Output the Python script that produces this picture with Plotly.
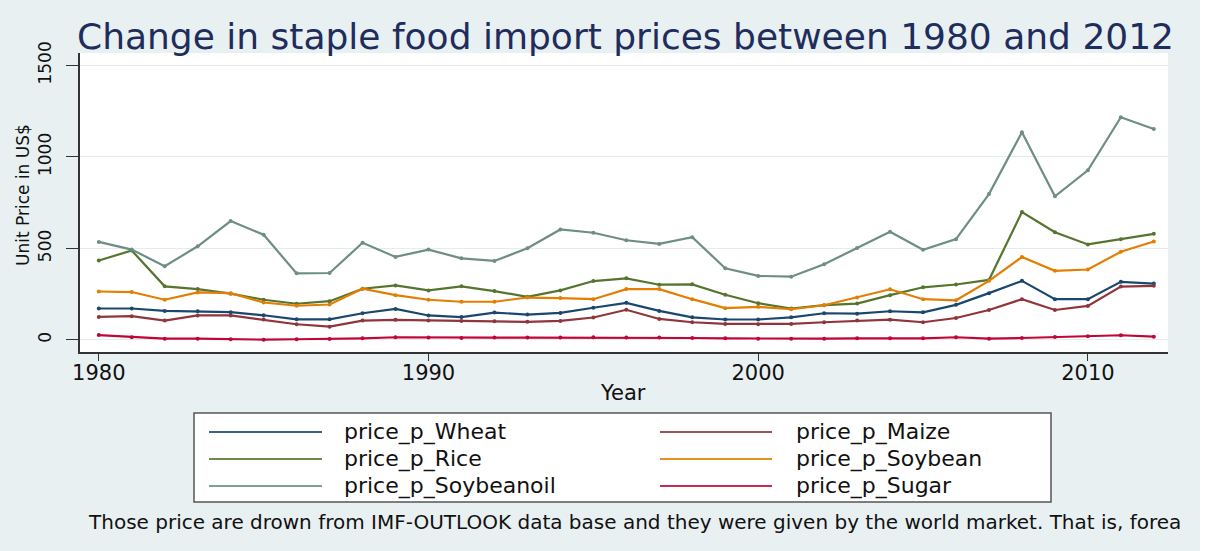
import plotly.graph_objects as go

years = list(range(1980, 2013))

wheat = [172, 172, 159, 157, 152, 135, 113, 113, 146, 170, 134, 125, 150, 139, 148, 176, 203, 159, 124, 112, 112, 124,
         146, 144, 157, 151, 192, 256, 323, 223, 223, 318, 308]
maize = [126, 130, 106, 134, 134, 112, 86, 73, 106, 110, 106, 104, 102, 99, 104, 123, 165, 115, 97, 88, 86, 88,
         97, 106, 111, 97, 120, 164, 223, 164, 186, 292, 296]
rice = [434, 489, 293, 278, 253, 220, 198, 212, 280, 298, 271, 293, 267, 236, 271, 322, 337, 302, 304, 247, 201, 172,
        190, 199, 245, 288, 303, 328, 699, 589, 522, 551, 580]
soybean = [265, 262, 220, 260, 256, 205, 187, 194, 280, 245, 220, 209, 209, 232, 229, 223, 278, 278, 223, 174, 181, 168,
           190, 232, 277, 223, 217, 323, 453, 378, 385, 482, 538]
soybeanoil = [536, 494, 403, 512, 650, 575, 364, 366, 531, 454, 494, 446, 432, 501, 604, 586, 545, 525, 562, 392, 350, 346,
              414, 502, 591, 493, 551, 797, 1135, 785, 927, 1217, 1153]
sugar = [27, 15, 7, 7, 4, 2, 4, 5, 9, 15, 13, 11, 13, 13, 13, 15, 13, 13, 11, 9, 7, 7,
         7, 9, 9, 9, 15, 7, 11, 16, 20, 26, 18]

names = ["price_p_Wheat", "price_p_Maize", "price_p_Rice", "price_p_Soybean", "price_p_Soybeanoil", "price_p_Sugar"]
series = [wheat, maize, rice, soybean, soybeanoil, sugar]
colors = ["#1A476F", "#90353B", "#55752F", "#E37E00", "#6E8E84", "#C10534"]

ytick_vals = [0, 500, 1000, 1500]
xtick_vals = [1980, 1990, 2000, 2010]

title_text = "Change in staple food import prices between 1980 and 2012"
ytitle_text = "Unit Price in US$"
xtitle_text = "Year"
note_text = "Those price are drown from IMF-OUTLOOK data base and they were given by the world market. That is, forea"

FONT = "DejaVu Sans"
BG = "#E9F0F2"

fig = go.Figure()
for name, vals, col in zip(names, series, colors):
    fig.add_trace(go.Scatter(
        x=years, y=vals, name=name, mode="lines+markers",
        line=dict(color=col, width=2.2),
        marker=dict(color=col, size=4),
        showlegend=False,
    ))

W, H = 1200, 551
L, R, T, B = 80, 32, 53, 199
pw = W - L - R
ph = H - T - B

def px_x(p):
    return (p - L) / pw

def px_y(p):
    return (H - B - p) / ph

shapes = []
annotations = []

# legend box
shapes.append(dict(type="rect", xref="paper", yref="paper",
                   x0=px_x(194), x1=px_x(1051), y0=px_y(502), y1=px_y(413),
                   fillcolor="white", line=dict(color="#555555", width=1.5), layer="above"))
rows = [432, 459, 486]
cols = [(209, 322, 342), (660, 772, 794)]
for i, (name, col) in enumerate(zip(names, colors)):
    r = rows[i // 2]
    c = cols[i % 2]
    shapes.append(dict(type="line", xref="paper", yref="paper",
                       x0=px_x(c[0]), x1=px_x(c[1]), y0=px_y(r), y1=px_y(r),
                       line=dict(color=col, width=2), opacity=0.85, layer="above"))
    annotations.append(dict(text=name, xref="paper", yref="paper",
                            x=px_x(c[2]), y=px_y(r), xanchor="left", yanchor="middle",
                            showarrow=False, font=dict(family=FONT, size=22, color="#111111")))

# title
annotations.append(dict(text=title_text, xref="paper", yref="paper",
                        x=px_x(625), y=px_y(36), xanchor="center", yanchor="middle",
                        showarrow=False, font=dict(family=FONT, size=36, color="#1F2D5C")))
# y title
annotations.append(dict(text=ytitle_text, xref="paper", yref="paper",
                        x=px_x(23), y=px_y(195), xanchor="center", yanchor="middle", textangle=-90,
                        showarrow=False, font=dict(family=FONT, size=17, color="#111111")))
# x title
annotations.append(dict(text=xtitle_text, xref="paper", yref="paper",
                        x=px_x(623), y=px_y(393), xanchor="center", yanchor="middle",
                        showarrow=False, font=dict(family=FONT, size=21, color="#111111")))
# note
annotations.append(dict(text=note_text, xref="paper", yref="paper",
                        x=px_x(86), y=px_y(522), xanchor="left", yanchor="middle",
                        showarrow=False, font=dict(family=FONT, size=20, color="#111111")))

fig.update_layout(
    width=W, height=H,
    margin=dict(l=L, r=R, t=T, b=B, pad=0),
    paper_bgcolor=BG, plot_bgcolor="white",
    font=dict(family=FONT, size=18, color="#111111"),
    shapes=shapes, annotations=annotations,
    showlegend=False,
)
fig.update_xaxes(range=[1979.43, 2012.43], tickvals=xtick_vals, ticks="outside", ticklen=7,
                 tickcolor="#333333", showline=True, linecolor="#333333", linewidth=1.5,
                 showgrid=False, zeroline=False, tickfont=dict(size=21), ticklabelstandoff=-6)
fig.update_yaxes(range=[-65.6, 1568], tickvals=ytick_vals, ticks="outside", ticklen=12,
                 tickcolor="#333333", showline=True, linecolor="#333333", linewidth=1.5,
                 showgrid=True, gridcolor="#E4ECEF", gridwidth=1, zeroline=False,
                 tickangle=-90, tickfont=dict(size=17), ticklabelstandoff=8)

fig.write_html("out.html", config={"displayModeBar": False},
               post_script="document.body.style.margin='0';")
